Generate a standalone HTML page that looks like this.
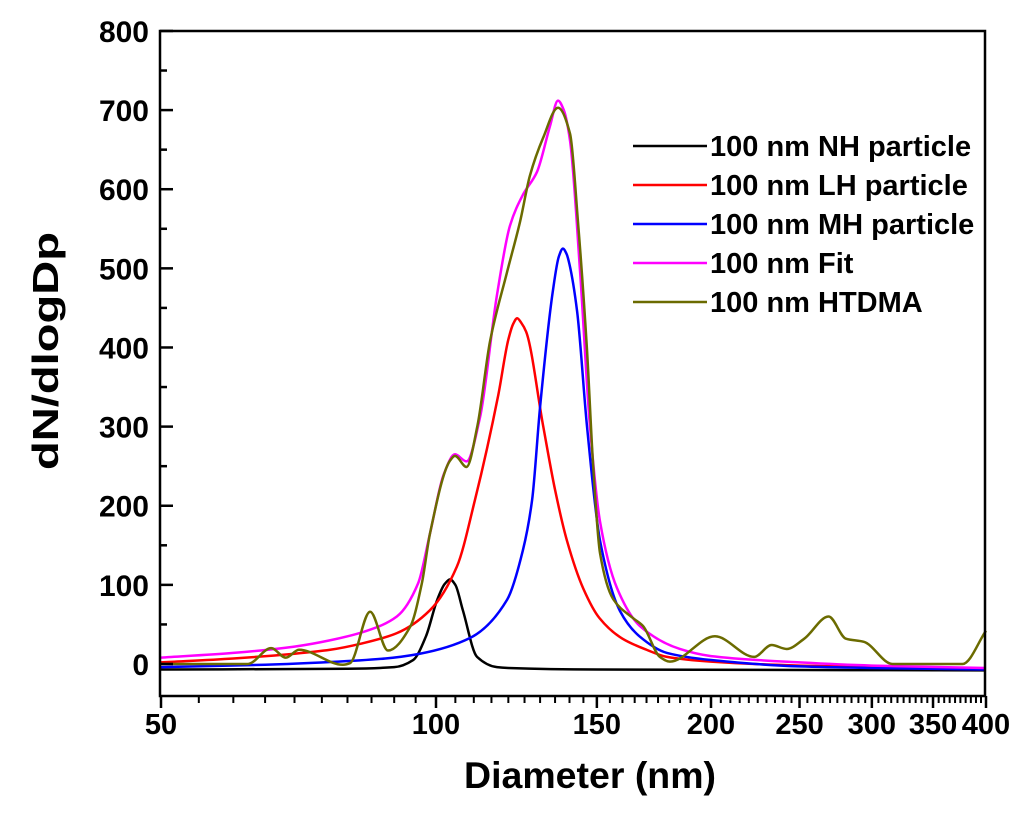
<!DOCTYPE html>
<html><head><meta charset="utf-8"><style>
body{margin:0;background:#fff;}
svg{display:block;font-family:"Liberation Sans",Arial,sans-serif;font-weight:bold;}
</style></head><body>
<svg id="chart" width="1033" height="816" viewBox="0 0 1033 816" xmlns="http://www.w3.org/2000/svg">
<g id="marks"></g>
<g id="axes"></g>
<g id="legend"></g>
<text x="0" y="0" transform="translate(58,351) rotate(-90)" text-anchor="middle" font-size="36" textLength="238" lengthAdjust="spacingAndGlyphs">dN/dlogDp</text>
<text x="590" y="788" text-anchor="middle" font-size="37" textLength="252" lengthAdjust="spacingAndGlyphs">Diameter (nm)</text>
</svg>
<script>
const nhD=[50,80,90,94.4,97.5,100.3,102.2,103.6,105,107,110.9,116.6,120,150,400];
const nhV=[-7,-6,-4,5,35,81,101,107,100,68,9,-4,-5,-7,-8];
const lhD=[50,60,70,76.6,83,90.6,98.5,105.4,110.3,117,120,121.5,122.7,124,125.5,131,135,139.1,145,151,160,170,179,200,250,300,400];
const lhV=[2,7,13,18,26,39,68,123,207,340,410,430,437,431,420,301,220,156,95,58,32,18,9,3,-2,-4,-6];
const mhD=[50,65,76.6,88,96,109,119.6,124.5,127.4,130,134.2,136.3,137.7,139,140,142.7,146.3,151.2,159,167,179,200,250,300,400];
const mhV=[-4,-1,2.5,7,13,33,81,144,207,325,470,515,525,518,505,446,301,156,67,35,14,5,-3,-5,-7];
const fitD=[50,60,70,76.6,84,90.6,95.6,98.5,102,104.9,108,111.7,116.6,120.5,124.5,129,133.3,136,138,140.2,143.8,147.4,151.2,157.8,167.2,184.9,200,250,300,400];
const fitV=[8,14,22,30,42,60,102,165,240,265,256,311,466,554,593,622,680,712,700,661,495,301,180,96,48,19,10,2,-2,-5];
const htD=[50,62.2,66,68.5,70.8,79.1,80.5,84.7,88.6,93.7,96.5,98.5,103.6,104.9,108,111,114.6,119.6,123.6,126.7,131,136,140.2,143,146.3,148.6,151.2,156.3,164.3,168.5,175.8,180.3,202,223,233,242,253,269,281,294,316,377,400];
const htV=[0,0,20,8,18,-1,1,66,17,47,102,165,257,263,249,301,408,495,559,617,665,703,670,560,398,251,140,82,58,48,9,3,35,9,24,19,32,60,32,28,0,0,42];
const yTicks=[0,100,200,300,400,500,600,700,800];
const xTicks=[50,100,150,200,250,300,350,400];
const seriesNames=["100 nm NH particle","100 nm LH particle","100 nm MH particle","100 nm Fit","100 nm HTDMA"];

const NS="http://www.w3.org/2000/svg";
const L=160,R=985,T=31,B=696;
const xs=d=>436+275*Math.log2(d/100);
const ys=v=>664-v*0.7913;
function mk(t,a,p){const e=document.createElementNS(NS,t);for(const k in a)e.setAttribute(k,a[k]);p.appendChild(e);return e;}
function monoPath(X,Y){
 const n=X.length,dl=[],m=new Array(n);
 for(let i=0;i<n-1;i++)dl.push((Y[i+1]-Y[i])/(X[i+1]-X[i]));
 m[0]=dl[0];m[n-1]=dl[n-2];
 for(let i=1;i<n-1;i++){if(dl[i-1]*dl[i]<=0)m[i]=0;else{const w1=2*(X[i+1]-X[i])+(X[i]-X[i-1]),w2=(X[i+1]-X[i])+2*(X[i]-X[i-1]);m[i]=(w1+w2)/(w1/dl[i-1]+w2/dl[i]);}}
 let s=`M${X[0]},${Y[0]}`;
 for(let i=0;i<n-1;i++){const h=X[i+1]-X[i];s+=`C${X[i]+h/3},${Y[i]+m[i]*h/3} ${X[i+1]-h/3},${Y[i+1]-m[i+1]*h/3} ${X[i+1]},${Y[i+1]}`;}
 return s;
}
const marks=document.getElementById('marks');
const series=[[nhD,nhV,'#000','nh-curve'],[lhD,lhV,'#ff0000','lh-curve'],[mhD,mhV,'#0000ff','mh-curve'],[fitD,fitV,'#ff00ff','fit-curve'],[htD,htV,'#6b6b00','htdma-curve']];
series.forEach(([D,V,c,n])=>{
 const p=mk('path',{d:monoPath(D.map(xs),V.map(ys)),fill:'none',stroke:c,'stroke-width':2.5,'stroke-linejoin':'round'},marks);
 
 
});
const ax=document.getElementById('axes');
mk('rect',{x:L,y:T,width:R-L,height:B-T,fill:'none',stroke:'#000','stroke-width':2.5},ax);
yTicks.forEach(v=>{
 const y=ys(v);
 mk('line',{x1:L,x2:L+13,y1:y,y2:y,stroke:'#000','stroke-width':2.5},ax);
 const t=mk('text',{x:L-11,y:y+11,'text-anchor':'end','font-size':30},ax);t.textContent=v;
 
 
 if(v<800){const ym=ys(v+50);mk('line',{x1:L,x2:L+7,y1:ym,y2:ym,stroke:'#000','stroke-width':2.5},ax);}
});
for(let d=55;d<400;d+=5){if(xTicks.includes(d))continue;const x=xs(d);mk('line',{x1:x,x2:x,y1:B,y2:B+7,stroke:'#000','stroke-width':2},ax);}
xTicks.forEach(d=>{
 const x=xs(d);
 mk('line',{x1:x,x2:x,y1:B,y2:B+12,stroke:'#000','stroke-width':2.5},ax);
 const t=mk('text',{x:x,y:B+38,'text-anchor':'middle','font-size':29},ax);t.textContent=d;
 
 
});
const lg=document.getElementById('legend');
seriesNames.forEach((n,i)=>{
 const y=146+i*39;
 const g=mk('g',{},lg);
 
 
 mk('line',{x1:633,x2:707,y1:y,y2:y,stroke:series[i][2],'stroke-width':2.5},g);
 const t=mk('text',{x:710,y:y+10,'font-size':29},g);t.textContent=n;
});
</script>
</body></html>
